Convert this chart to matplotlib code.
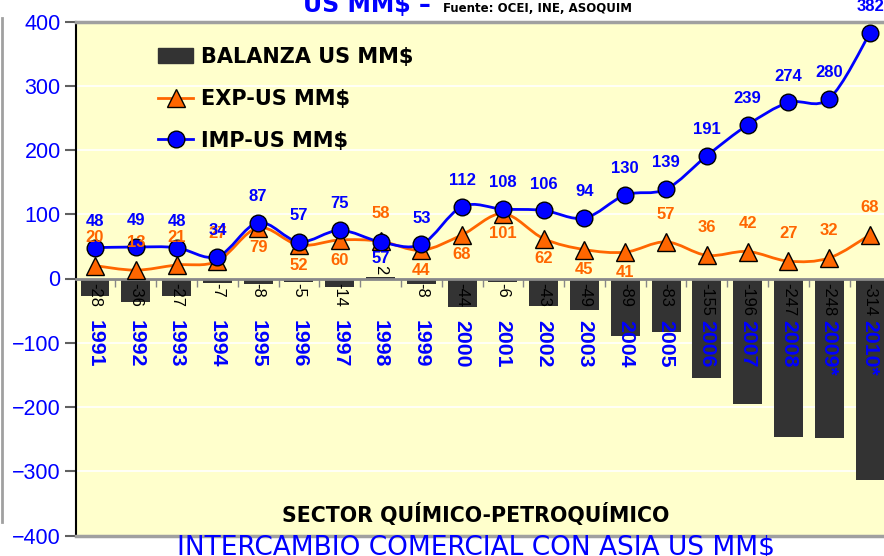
import numpy as np
import matplotlib
matplotlib.use('Agg')
import matplotlib.pyplot as plt
from matplotlib.path import Path
from matplotlib.patches import PathPatch, Patch
from matplotlib.lines import Line2D
from matplotlib.font_manager import FontProperties
from matplotlib import font_manager as fm

# ---------------- data ----------------
years = ['1991', '1992', '1993', '1994', '1995', '1996', '1997', '1998', '1999', '2000',
         '2001', '2002', '2003', '2004', '2005', '2006', '2007', '2008', '2009*', '2010*']
balanza = [-28, -36, -27, -7, -8, -5, -14, 2, -8, -44,
           -6, -43, -49, -89, -83, -155, -196, -247, -248, -314]
exp_vals = [20, 13, 21, 27, 79, 52, 60, 58, 44, 68,
            101, 62, 45, 41, 57, 36, 42, 27, 32, 68]
imp_vals = [48, 49, 48, 34, 87, 57, 75, 57, 53, 112,
            108, 106, 94, 130, 139, 191, 239, 274, 280, 382]
y_ticks = [-400, -300, -200, -100, 0, 100, 200, 300, 400]
series_names = ['BALANZA US MM$', 'EXP-US MM$', 'IMP-US MM$']

# label placement (style): 'a' above, 'b' below the marker
exp_label_side = ['a', 'a', 'a', 'a', 'b', 'b', 'b', 'a', 'b', 'b',
                  'b', 'b', 'b', 'b', 'a', 'a', 'a', 'a', 'a', 'a']
imp_label_side = ['a'] * 7 + ['b'] + ['a'] * 12

# ---------------- style ----------------
BLUE = '#0000FF'
ORANGE = '#FF6600'
BAR = '#333333'
BG = '#FFFFCC'
GRAY = '#A0A0A0'

names = {f.name for f in fm.fontManager.ttflist}
if 'Liberation Sans Narrow' in names:
    NARROW, nscale = 'Liberation Sans Narrow', 1.0
else:
    NARROW, nscale = 'Liberation Sans', 0.85
ARIAL = 'Liberation Sans'

W, H = 884, 556
fig = plt.figure(figsize=(W / 100, H / 100), dpi=100)
fig.patch.set_facecolor('white')


def fx(px):
    return px / W


def fy(py):
    return 1 - py / H


top_px, bot_px = 21.5, 535.5
ax = fig.add_axes([fx(76), fy(bot_px), fx(884 - 76), (bot_px - top_px) / H])
ax.set_facecolor(BG)
x = np.arange(len(years))
ax.set_xlim(-0.466, 19.343)
ax.set_ylim(-400, 400)

# grid
ax.set_yticks(y_ticks)
ax.yaxis.grid(True, color='white', lw=1.2)
ax.set_axisbelow(True)

# bars
ax.bar(x, balanza, width=0.71, color=BAR, zorder=1.5)


def smooth_path(xs, ys):
    xs = np.asarray(xs, float)
    ys = np.asarray(ys, float)
    n = len(xs)
    verts = [(xs[0], ys[0])]
    codes = [Path.MOVETO]
    for i in range(n - 1):
        i0, i3 = max(i - 1, 0), min(i + 2, n - 1)
        c1 = (xs[i] + (xs[i + 1] - xs[i0]) / 6, ys[i] + (ys[i + 1] - ys[i0]) / 6)
        c2 = (xs[i + 1] - (xs[i3] - xs[i]) / 6, ys[i + 1] - (ys[i3] - ys[i]) / 6)
        verts += [c1, c2, (xs[i + 1], ys[i + 1])]
        codes += [Path.CURVE4] * 3
    return Path(verts, codes)


ax.add_patch(PathPatch(smooth_path(x, exp_vals), fill=False, edgecolor=ORANGE, lw=2, zorder=3))
ax.add_patch(PathPatch(smooth_path(x, imp_vals), fill=False, edgecolor=BLUE, lw=2, zorder=4))
ax.plot(x, exp_vals, ls='none', marker='^', ms=13, mfc=ORANGE, mec='black', mew=1, zorder=5)
ax.plot(x, imp_vals, ls='none', marker='o', ms=12, mfc=BLUE, mec='black', mew=1, zorder=6)

# data labels
for i, v in enumerate(exp_vals):
    off = 20 if exp_label_side[i] == 'a' else -14.5
    ax.annotate(str(v), (i, v), xytext=(0, off), textcoords='offset points',
                ha='center', va='center', color=ORANGE, fontsize=12,
                family=ARIAL, weight='bold', zorder=8)
for i, v in enumerate(imp_vals):
    off = 19 if imp_label_side[i] == 'a' else -12
    ax.annotate(str(v), (i, v), xytext=(0, off), textcoords='offset points',
                ha='center', va='center', color=BLUE, fontsize=12,
                family=ARIAL, weight='bold', zorder=8, annotation_clip=False)
for i, v in enumerate(balanza):
    ax.annotate(str(v), (i, 0), xytext=(0, -3 if v < 0 else 3), textcoords='offset points',
                rotation=270, ha='center', va='top' if v < 0 else 'bottom',
                color='black', fontsize=14 * nscale, family=NARROW, zorder=8)
for i, yr in enumerate(years):
    ax.text(i, -64.5, yr, rotation=270, ha='center', va='top', color=BLUE,
            fontsize=18 * nscale, family=NARROW, weight='bold', zorder=8)

# axes styling
ax.spines['right'].set_visible(False)
ax.spines['left'].set_color('black')
ax.spines['left'].set_linewidth(1.5)
ax.spines['top'].set_color(GRAY)
ax.spines['top'].set_linewidth(2.5)
ax.spines['bottom'].set_position(('data', 0))
ax.spines['bottom'].set_color('#888888')
ax.spines['bottom'].set_linewidth(2)
ax.spines['bottom'].set_zorder(2.5)
ax.set_xticks(x[:-1] + 0.5)
ax.set_xticklabels([])
ax.tick_params(axis='x', direction='out', length=6, width=1, color='#888888')
ax.tick_params(axis='y', direction='out', length=8, width=1.5, color='#606060',
               labelcolor=BLUE, labelsize=15.5, pad=3)
for lab in ax.get_yticklabels():
    lab.set_family(ARIAL)
ax.axhline(-400, color=GRAY, lw=2.5, clip_on=False, zorder=3)

# legend
handles = [Patch(facecolor=BAR, edgecolor=BAR),
           Line2D([], [], color=ORANGE, lw=2, marker='^', ms=13, mfc=ORANGE, mec='black'),
           Line2D([], [], color=BLUE, lw=2, marker='o', ms=12, mfc=BLUE, mec='black')]
fig.legend(handles, series_names, loc='upper left', bbox_to_anchor=(fx(158), fy(47)),
           frameon=False, borderpad=0, borderaxespad=0, handlelength=1.7,
           handletextpad=0.38, labelspacing=1.05,
           prop=FontProperties(family='DejaVu Sans', weight='bold', size=15))

# texts
fig.text(fx(303), fy(12), 'US MM$ \u2013', color=BLUE, fontsize=17, weight='bold',
         family='DejaVu Sans', ha='left', va='baseline')
fig.text(fx(443), fy(12), 'Fuente: OCEI, INE, ASOQUIM', color='black', fontsize=8.5,
         weight='bold', family='DejaVu Sans', ha='left', va='baseline')
fig.text(fx(476), fy(522), 'SECTOR QUÍMICO-PETROQUÍMICO', color='black', fontsize=14.8,
         weight='bold', family='DejaVu Sans', ha='center', va='baseline')
fig.text(fx(476), fy(555), 'INTERCAMBIO COMERCIAL CON ASIA US MM$', color=BLUE,
         fontsize=19, family='DejaVu Sans', ha='center', va='baseline')

fig.add_artist(Line2D([fx(1.5), fx(1.5)], [fy(18), fy(522)], color=GRAY, lw=2))

fig.savefig('out.png', dpi=100, facecolor='white')
